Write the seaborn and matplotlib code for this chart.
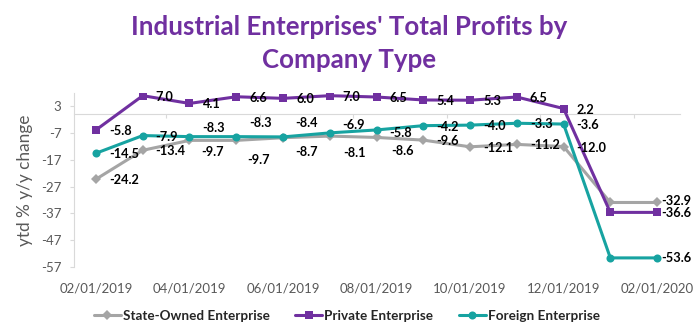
import numpy as np
import pandas as pd
import matplotlib
matplotlib.use("Agg")
import matplotlib.pyplot as plt
from matplotlib.lines import Line2D
from matplotlib.ticker import FixedLocator, NullLocator
import seaborn as sns

# ---- data -------------------------------------------------------------
months = ["02/01/2019", "03/01/2019", "04/01/2019", "05/01/2019",
          "06/01/2019", "07/01/2019", "08/01/2019", "09/01/2019",
          "10/01/2019", "11/01/2019", "12/01/2019", "01/01/2020",
          "02/01/2020"]
state_owned = [-24.2, -13.4, -9.7, -9.7, -8.7, -8.1, -8.6, -9.6,
               -12.1, -11.2, -12.0, -32.9, -32.9]
private = [-5.8, 7.0, 4.1, 6.6, 6.0, 7.0, 6.5, 5.4, 5.3, 6.5, 2.2,
           -36.6, -36.6]
foreign = [-14.5, -7.9, -8.3, -8.3, -8.4, -6.9, -5.8, -4.2, -4.0,
           -3.3, -3.6, -53.6, -53.6]
series_names = ["State-Owned Enterprise", "Private Enterprise",
                "Foreign Enterprise"]
y_ticks = [3, -7, -17, -27, -37, -47, -57]
x_tick_labels = months[::2]
unlabeled_month = "01/01/2020"

title = "Industrial Enterprises' Total Profits by\nCompany Type"
y_title = "ytd % y/y change"

# ---- styling ----------------------------------------------------------
colors = {"State-Owned Enterprise": "#A5A5A5",
          "Private Enterprise": "#7030A0",
          "Foreign Enterprise": "#17A3A1"}
markers = {"State-Owned Enterprise": ("D", 4.6),
           "Private Enterprise": ("s", 5.8),
           "Foreign Enterprise": ("o", 5.8)}
axis_grey = "#D9D9D9"
text_grey = "#595959"

# label offsets in pixels (right, down) from each point
default_offset = (13, 1)
end_offset = (4, 0)
offset_overrides = {
    "State-Owned Enterprise": {2: (12, 12), 3: (11, 20), 4: (12, 14),
                               5: (13, 17), 6: (15, 14), 12: (4, -1)},
    "Foreign Enterprise": {2: (13, -9), 3: (13, -14), 4: (12, -14),
                           5: (12, -8), 6: (13, 3)},
    "Private Enterprise": {12: (4, 1)},
}

sns.set_theme(style="white")
plt.rcParams["font.family"] = ["Lato", "DejaVu Sans"]

W, H = 694, 335
fig = plt.figure(figsize=(W / 100, H / 100), dpi=100)
ax = fig.add_axes([74 / W, 1 - 267 / H, (680 - 74) / W, (267 - 93) / H])

pos = np.arange(len(months))
df = pd.DataFrame({"pos": pos, "month": months,
                   series_names[0]: state_owned,
                   series_names[1]: private,
                   series_names[2]: foreign})
long = df.melt(id_vars=["pos", "month"], var_name="series",
               value_name="value")

for name in series_names:
    sub = long[long["series"] == name]
    mk, ms = markers[name]
    sns.lineplot(data=sub, x="pos", y="value", color=colors[name],
                 marker=mk, markersize=ms, markeredgewidth=0,
                 linewidth=2.2, ax=ax, legend=False, zorder=3)
    last = sub["pos"].max()
    for p, m, v in zip(sub["pos"], sub["month"], sub["value"]):
        if m == unlabeled_month:
            continue
        fallback = end_offset if p == last else default_offset
        dx, dy = offset_overrides[name].get(p, fallback)
        ax.annotate(f"{v:.1f}", (p, v), xytext=(dx, -dy),
                    textcoords="offset pixels", ha="left", va="center",
                    fontsize=9.2, fontweight="bold", color="black",
                    zorder=4)

# ---- axes -------------------------------------------------------------
ax.set_xlim(-0.47, len(months) - 1 + 0.49)
ax.set_ylim(-57, 8)
ax.set_xlabel("")
ax.set_ylabel(y_title, fontsize=12.4, color=text_grey, labelpad=6)

for s in ("top", "right"):
    ax.spines[s].set_visible(False)
ax.spines["left"].set_color(axis_grey)
ax.spines["left"].set_linewidth(0.8)
ax.spines["bottom"].set_position(("data", 0))
ax.spines["bottom"].set_color(axis_grey)
ax.spines["bottom"].set_linewidth(0.8)

ax.set_yticks(y_ticks)
ax.set_yticklabels([str(t) for t in y_ticks])
ax.tick_params(axis="y", left=True, length=3, width=0.8, color=axis_grey,
               direction="out", labelsize=9.5, labelcolor=text_grey, pad=6)

ax.xaxis.set_major_locator(NullLocator())
ax.xaxis.set_minor_locator(FixedLocator(pos[1::2] + 0.5))
ax.tick_params(axis="x", which="minor", bottom=True, length=3, width=0.8,
               color=axis_grey, direction="out")

sec = ax.secondary_xaxis("bottom")
sec.set_xticks(pos[::2])
sec.set_xticklabels(x_tick_labels)
sec.spines["bottom"].set_visible(False)
sec.tick_params(axis="x", length=0, pad=11, labelsize=9.5,
                labelcolor=text_grey)

# ---- title and legend ------------------------------------------------
fig.text(0.503, 0.871, title, ha="center", va="center", fontsize=18.6,
         fontweight="bold", color="#7030A0", linespacing=1.45)

handles = [Line2D([], [], color=colors[n], marker=markers[n][0],
                  markersize=markers[n][1], markeredgewidth=0, linewidth=2.2)
           for n in series_names]
fig.legend(handles, series_names, loc="center", bbox_to_anchor=(0.5, 0.057),
           ncol=3, frameon=False, handlelength=2.0, handletextpad=0.15,
           columnspacing=1.9, prop={"weight": "bold", "size": 9.7})

fig.savefig("out.png", dpi=100)
